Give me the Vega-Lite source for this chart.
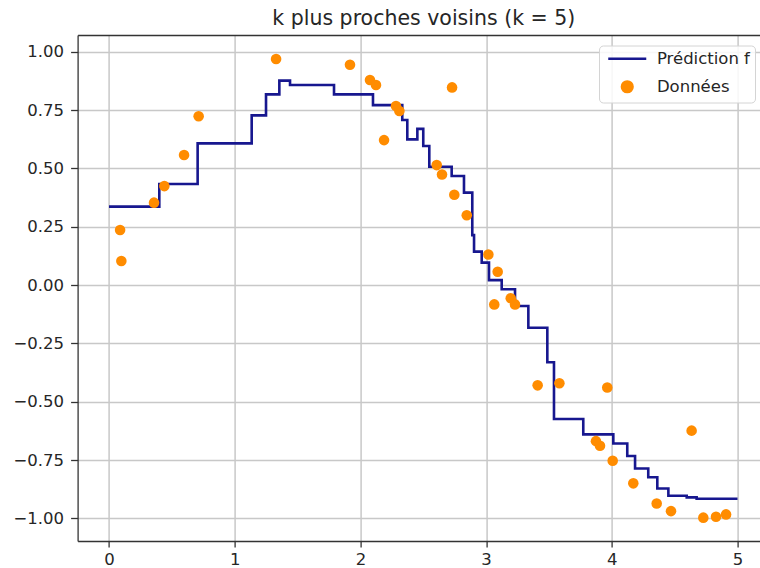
{
  "$schema": "https://vega.github.io/schema/vega-lite/v6.json",
  "width": 682.4,
  "height": 506,
  "autosize": {"type": "none"},
  "padding": {"left": 77.6, "top": 35, "right": 0, "bottom": 27},
  "background": "white",
  "title": {
    "text": "k plus proches voisins (k = 5)",
    "font": "DejaVu Sans",
    "fontSize": 20.5,
    "fontWeight": "normal",
    "color": "#262626",
    "anchor": "middle",
    "dx": 5,
    "offset": 6
  },
  "datasets": {
    "prediction": [
      {"x": 0.0, "y": 0.336},
      {"x": 0.4, "y": 0.433},
      {"x": 0.705, "y": 0.607},
      {"x": 1.135, "y": 0.727},
      {"x": 1.249, "y": 0.817},
      {"x": 1.355, "y": 0.876},
      {"x": 1.44, "y": 0.857},
      {"x": 1.79, "y": 0.817},
      {"x": 2.1, "y": 0.771},
      {"x": 2.333, "y": 0.707},
      {"x": 2.373, "y": 0.624},
      {"x": 2.453, "y": 0.669},
      {"x": 2.5, "y": 0.596},
      {"x": 2.548, "y": 0.507},
      {"x": 2.726, "y": 0.467},
      {"x": 2.824, "y": 0.396},
      {"x": 2.89, "y": 0.214},
      {"x": 2.904, "y": 0.143},
      {"x": 2.965, "y": 0.096},
      {"x": 3.023, "y": 0.021},
      {"x": 3.124, "y": -0.018},
      {"x": 3.23, "y": -0.09},
      {"x": 3.336, "y": -0.183},
      {"x": 3.487, "y": -0.331},
      {"x": 3.54, "y": -0.574},
      {"x": 3.773, "y": -0.64},
      {"x": 4.012, "y": -0.679},
      {"x": 4.123, "y": -0.733},
      {"x": 4.185, "y": -0.786},
      {"x": 4.29, "y": -0.824},
      {"x": 4.362, "y": -0.872},
      {"x": 4.45, "y": -0.903},
      {"x": 4.596, "y": -0.91},
      {"x": 4.675, "y": -0.916},
      {"x": 5.0, "y": -0.916}
    ],
    "donnees": [
      {"x": 0.088, "y": 0.236},
      {"x": 0.098, "y": 0.103},
      {"x": 0.358, "y": 0.353},
      {"x": 0.44, "y": 0.424},
      {"x": 0.597, "y": 0.557},
      {"x": 0.713, "y": 0.723},
      {"x": 1.329, "y": 0.969},
      {"x": 1.917, "y": 0.944},
      {"x": 2.076, "y": 0.879},
      {"x": 2.124, "y": 0.857},
      {"x": 2.188, "y": 0.621},
      {"x": 2.283, "y": 0.767},
      {"x": 2.31, "y": 0.746},
      {"x": 2.607, "y": 0.514},
      {"x": 2.649, "y": 0.474},
      {"x": 2.729, "y": 0.847},
      {"x": 2.747, "y": 0.387},
      {"x": 2.846, "y": 0.299},
      {"x": 3.018, "y": 0.131},
      {"x": 3.065, "y": -0.083},
      {"x": 3.092, "y": 0.057},
      {"x": 3.196, "y": -0.057},
      {"x": 3.23, "y": -0.083},
      {"x": 3.41, "y": -0.43},
      {"x": 3.583, "y": -0.421},
      {"x": 3.874, "y": -0.669},
      {"x": 3.906, "y": -0.689},
      {"x": 3.964, "y": -0.439},
      {"x": 4.007, "y": -0.753},
      {"x": 4.171, "y": -0.85},
      {"x": 4.357, "y": -0.936},
      {"x": 4.471, "y": -0.969},
      {"x": 4.635, "y": -0.624},
      {"x": 4.728, "y": -0.997},
      {"x": 4.829, "y": -0.993},
      {"x": 4.909, "y": -0.983}
    ]
  },
  "resolve": {"axis": {"x": "independent"}},
  "layer": [
    {
      "data": {"name": "prediction"},
      "mark": {"type": "line", "interpolate": "step-after", "strokeWidth": 2.6},
      "encoding": {
        "x": {
          "field": "x",
          "type": "quantitative",
          "scale": {"domain": [-0.25, 5.179], "nice": false, "zero": false},
          "axis": {"orient": "top", "labels": false, "ticks": false, "grid": false, "domain": true, "title": null}
        },
        "y": {
          "field": "y",
          "type": "quantitative",
          "scale": {"domain": [-1.097, 1.0715], "nice": false, "zero": false},
          "axis": {
            "title": null,
            "values": [-1, -0.75, -0.5, -0.25, 0, 0.25, 0.5, 0.75, 1],
            "format": ".2f",
            "tickSize": 7,
            "labelPadding": 7
          }
        },
        "color": {
          "datum": "Prédiction f",
          "scale": {"domain": ["Prédiction f", "Données"], "range": ["#17178f", "darkorange"]}
        }
      }
    },
    {
      "data": {"name": "donnees"},
      "mark": {"type": "point", "filled": true, "opacity": 1},
      "encoding": {
        "x": {
          "field": "x",
          "type": "quantitative",
          "scale": {"domain": [-0.25, 5.179], "nice": false, "zero": false},
          "axis": {"orient": "bottom", "title": null, "values": [0, 1, 2, 3, 4, 5], "format": "d", "tickSize": 6, "labelPadding": 4, "grid": true}
        },
        "y": {
          "field": "y",
          "type": "quantitative",
          "scale": {"domain": [-1.097, 1.0715], "nice": false, "zero": false},
          "axis": {
            "title": null,
            "values": [-1, -0.75, -0.5, -0.25, 0, 0.25, 0.5, 0.75, 1],
            "format": ".2f",
            "tickSize": 7,
            "labelPadding": 7
          }
        },
        "color": {
          "datum": "Données",
          "scale": {"domain": ["Prédiction f", "Données"], "range": ["#17178f", "darkorange"]},
          "legend": {
            "orient": "none",
            "legendX": 521.4,
            "legendY": 10.5,
            "title": null,
            "symbolOffset": 15,
            "labelOffset": 21.4,
            "padding": 5,
            "rowPadding": 8,
            "symbolStrokeWidth": 2.6,
            "strokeColor": "#d4d4d4",
            "fillColor": "rgba(255,255,255,0.85)",
            "cornerRadius": 4
          }
        },
        "shape": {
          "datum": "Données",
          "scale": {"domain": ["Prédiction f", "Données"], "range": ["M-3.4,0H3.4", "circle"]}
        },
        "size": {
          "datum": "Données",
          "scale": {"type": "point", "padding": 0, "domain": ["Prédiction f", "Données"], "range": [125, 112]}
        }
      }
    }
  ],
  "config": {
    "view": {"stroke": null},
    "font": "DejaVu Sans",
    "axis": {
      "labelFont": "DejaVu Sans",
      "labelFontSize": 16.5,
      "labelColor": "#262626",
      "domainColor": "#333333",
      "domainWidth": 1.3,
      "tickColor": "#333333",
      "tickWidth": 1.3,
      "gridColor": "#c8c8c8",
      "gridWidth": 1.5
    },
    "legend": {
      "labelFont": "DejaVu Sans",
      "labelFontSize": 16.5,
      "labelColor": "#262626"
    }
  }
}
